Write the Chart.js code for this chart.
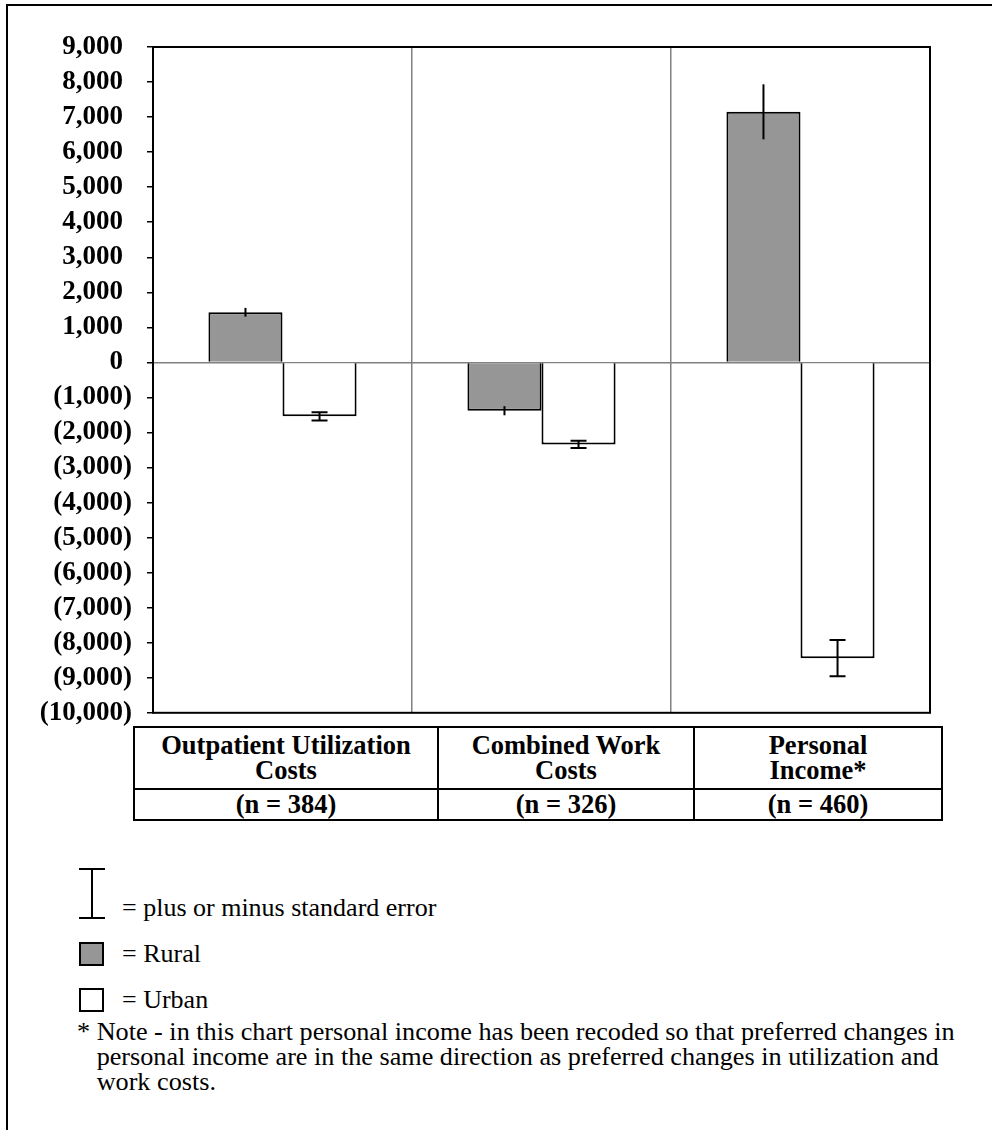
<!DOCTYPE html>
<html>
<head>
<meta charset="utf-8">
<script src="https://cdn.jsdelivr.net/npm/chart.js@4.4.1/dist/chart.umd.min.js"></script>
<style>
  html, body { margin: 0; padding: 0; background: #fff; }
  body { width: 992px; height: 1130px; position: relative; overflow: hidden;
         font-family: 'Liberation Serif', 'Times New Roman', serif; color: #000; }
  #frame { position: absolute; left: 6px; top: 4px; width: 1100px; height: 1200px; border: 2px solid #000; }
  #chart { position: absolute; left: 0; top: 0; }
  #tbl { position: absolute; left: 133px; top: 726px; border-collapse: collapse; table-layout: fixed; background: #fff; }
  #tbl td { border: 2px solid #000; padding: 0; text-align: center; font-weight: bold; font-size: 26.5px; line-height: 25px; }
  #tbl tr.head td { height: 60px; }
  #tbl tr.n td { height: 29px; }
  .leg { position: absolute; left: 122px; font-size: 26px; line-height: 30px; white-space: nowrap; }
  .sw { position: absolute; left: 79px; width: 21px; height: 20px; border: 2px solid #000; }
  .bar { position: absolute; background: #000; }
  #note { position: absolute; left: 77px; top: 1019px; font-size: 26.2px; line-height: 25px; white-space: nowrap; }
</style>
</head>
<body>
<div id="frame"></div>
<canvas id="chart" width="992" height="744"></canvas>

<table id="tbl">
  <colgroup><col style="width:304px"><col style="width:256px"><col style="width:248px"></colgroup>
  <tr class="head"><td id="c0"></td><td id="c1"></td><td id="c2"></td></tr>
  <tr class="n"><td id="n0"></td><td id="n1"></td><td id="n2"></td></tr>
</table>

<div class="bar" style="left:91px; top:868px; width:2px; height:51px;"></div>
<div class="bar" style="left:79px; top:868px; width:26px; height:2px;"></div>
<div class="bar" style="left:79px; top:917px; width:26px; height:2px;"></div>
<div class="leg" style="top:893px;">= plus or minus standard error</div>
<div class="sw" style="top:942px; background:#969696;"></div>
<div class="leg" style="top:939px;">= Rural</div>
<div class="sw" style="top:988px; background:#fff;"></div>
<div class="leg" style="top:985px;">= Urban</div>
<div id="note">* Note - in this chart personal income has been recoded so that preferred changes in<br>&nbsp;&nbsp;&nbsp;personal income are in the same direction as preferred changes in utilization and<br>&nbsp;&nbsp;&nbsp;work costs.</div>

<script>
const categories = [['Outpatient Utilization', 'Costs'], ['Combined Work', 'Costs'], ['Personal', 'Income*']];
const sampleSizes = ['(n = 384)', '(n = 326)', '(n = 460)'];
const rural = [1430, -1380, 7150];
const urban = [-1540, -2340, -8440];
const ruralErr = [125, 130, 785];
const urbanErr = [120, 100, 520];
const yMin = -10000;
const yMax = 9000;
const yStep = 1000;

categories.forEach((c, i) => {
    document.getElementById('c' + i).innerHTML = c.join('<br>');
    document.getElementById('n' + i).textContent = sampleSizes[i];
});

const fmt = v => Math.abs(v).toLocaleString('en-US');

// error bars: rural drawn as a plain stroke, urban with caps
const errorBars = {
    id: 'errorBars',
    afterDatasetsDraw(chart) {
        const ctx = chart.ctx;
        const y = chart.scales.y;
        [[0, ruralErr, false], [1, urbanErr, true]].forEach(([di, errs, caps]) => {
            const meta = chart.getDatasetMeta(di);
            const vals = chart.data.datasets[di].data;
            meta.data.forEach((bar, i) => {
                const top = y.getPixelForValue(vals[i] + errs[i]);
                const bot = y.getPixelForValue(vals[i] - errs[i]);
                ctx.save();
                ctx.strokeStyle = '#000';
                ctx.lineWidth = 2;
                ctx.beginPath();
                ctx.moveTo(bar.x, top);
                ctx.lineTo(bar.x, bot);
                if (caps) {
                    ctx.moveTo(bar.x - 8, top); ctx.lineTo(bar.x + 8, top);
                    ctx.moveTo(bar.x - 8, bot); ctx.lineTo(bar.x + 8, bot);
                }
                ctx.stroke();
                ctx.restore();
            });
        });
    }
};

const plotFrame = {
    id: 'plotFrame',
    afterDraw(chart) {
        const a = chart.chartArea;
        const ctx = chart.ctx;
        ctx.save();
        ctx.strokeStyle = '#000';
        ctx.lineWidth = 2;
        ctx.strokeRect(a.left, a.top, a.right - a.left, a.bottom - a.top);
        ctx.restore();
    }
};

new Chart(document.getElementById('chart'), {
    type: 'bar',
    data: {
        labels: categories.map(c => c.join(' ')),
        datasets: [
            { label: 'Rural', data: rural, backgroundColor: '#969696', borderColor: '#000', borderWidth: 2 },
            { label: 'Urban', data: urban, backgroundColor: '#ffffff', borderColor: '#000', borderWidth: 2 }
        ]
    },
    options: {
        responsive: false,
        animation: false,
        layout: { padding: { top: 47, right: 62, bottom: 4, left: 0 } },
        plugins: { legend: { display: false }, tooltip: { enabled: false } },
        datasets: { bar: { categoryPercentage: 0.572, barPercentage: 1.0 } },
        scales: {
            x: {
                grid: { offset: true, color: '#808080', lineWidth: 1.5, drawTicks: false },
                border: { display: false },
                ticks: { display: false },
                afterFit(scale) { scale.height = 0; }
            },
            y: {
                min: yMin,
                max: yMax,
                grid: {
                    color: ctx => ctx.tick && ctx.tick.value === 0 ? '#808080' : 'rgba(0,0,0,0)',
                    lineWidth: 1.5,
                    tickColor: '#000',
                    tickLength: 6
                },
                border: { color: '#000', width: 2 },
                ticks: {
                    stepSize: yStep,
                    padding: 15,
                    color: '#000',
                    font: { family: "'Liberation Serif', 'Times New Roman', serif", size: 27, weight: 'bold' },
                    callback: v => v < 0 ? '(' + fmt(v) + ')' : fmt(v) + '\u2008\u200A'
                },
                afterFit(scale) { scale.width = 153; }
            }
        }
    },
    plugins: [errorBars, plotFrame]
});
</script>
</body>
</html>
